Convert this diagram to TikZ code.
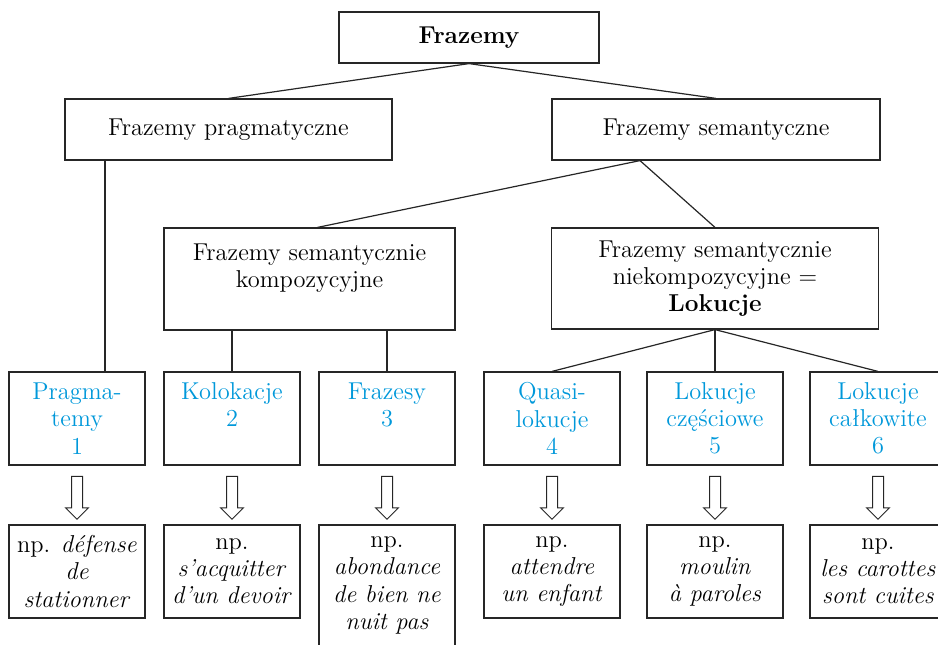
\documentclass[tikz,border=0pt]{standalone}
\usetikzlibrary{shapes.arrows,calc}
\definecolor{nrblue}{RGB}{0,152,218}
\begin{document}
\begin{tikzpicture}[x=0.5pt,y=-0.5pt,
    every node/.style={font=\fontsize{12.2}{13.6}\selectfont},
    box/.style={draw=black!85,line width=0.6pt,align=center,inner sep=2pt},
    typbox/.style={box,minimum width=68pt,minimum height=46.5pt,text=nrblue},
    exbox/.style={box,minimum width=68pt,minimum height=46.5pt},
    hollow/.style={single arrow,draw=black!85,line width=0.5pt,shape border rotate=270,
        minimum height=21.5pt,minimum width=11pt,single arrow head extend=3pt,
        single arrow head indent=0pt,inner sep=2.5pt,text width=0pt,text height=0pt,text depth=0pt},
    edge/.style={draw=black!85,line width=0.6pt}]
    \useasboundingbox (0,0) rectangle (938,644);

    %Gora
        \node[box,minimum width=130pt,minimum height=25.5pt] (top) at (469,37.5) {\textbf{Frazemy}};
        \node[box,minimum width=163.5pt,minimum height=30.5pt] (prag) at (228.5,129.5) {Frazemy pragmatyczne};
        \node[box,minimum width=164pt,minimum height=30.5pt] (sem) at (716,129.5) {Frazemy semantyczne};
        \node[box,minimum width=145.5pt,minimum height=51pt,text depth=13pt] (komp) at (309.5,279) {Frazemy semantycznie\\kompozycyjne};
        \node[box,minimum width=163.5pt,minimum height=50.5pt] (niek) at (715,278.5) {Frazemy semantycznie\\niekompozycyjne =\\\textbf{Lokucje}};

    %Typy
        \node[typbox] (p1) at (77,418.5) {Pragma-\\temy\\1};
        \node[typbox] (p2) at (232,418.5) {Kolokacje\\2\\\mbox{}};
        \node[typbox] (p3) at (387,418.5) {Frazesy\\3\\\mbox{}};
        \node[typbox] (p4) at (552,418.5) {Quasi-\\lokucje\\4};
        \node[typbox] (p5) at (715,418.5) {Lokucje\\częściowe\\5};
        \node[typbox] (p6) at (878,418.5) {Lokucje\\całkowite\\6};

    %Przyklady
        \node[exbox] (e1) at (77,571.5) {np. \textit{défense}\\\textit{de}\\\textit{stationner}};
        \node[exbox] (e2) at (232,571.5) {np.\\\textit{s’acquitter}\\\textit{d’un devoir}};
        \node[exbox,minimum height=60.5pt] (e3) at (387,585.5) {np.\\\textit{abondance}\\\textit{de bien ne}\\\textit{nuit pas}};
        \node[exbox] (e4) at (552,571.5) {np.\\\textit{attendre}\\\textit{un enfant}};
        \node[exbox] (e5) at (715,571.5) {np.\\\textit{moulin}\\\textit{à paroles}};
        \node[exbox] (e6) at (878,571.5) {np.\\\textit{les carottes}\\\textit{sont cuites}};

    %Linie
        \coordinate (pragfoot) at ([xshift=14pt]p1.north);
        \coordinate (semfoot) at ([xshift=-38pt]sem.south);
        \draw[edge] (top.south) -- (prag.north);
        \draw[edge] (top.south) -- (sem.north);
        \draw[edge] (pragfoot) -- (pragfoot |- prag.south);
        \draw[edge] (semfoot) -- ([xshift=4pt]komp.north);
        \draw[edge] (semfoot) -- (niek.north);
        \draw[edge] (p2.north |- komp.south) -- (p2.north);
        \draw[edge] (p3.north |- komp.south) -- (p3.north);
        \draw[edge] (niek.south) -- (p4.north);
        \draw[edge] (niek.south) -- (p5.north);
        \draw[edge] (niek.south) -- (p6.north);

    %Strzalki
        \foreach \i in {1,...,6}
            \node[hollow] (a\i) at ($(p\i.south)!0.5!(e\i.north)$) {};
\end{tikzpicture}
\end{document}
